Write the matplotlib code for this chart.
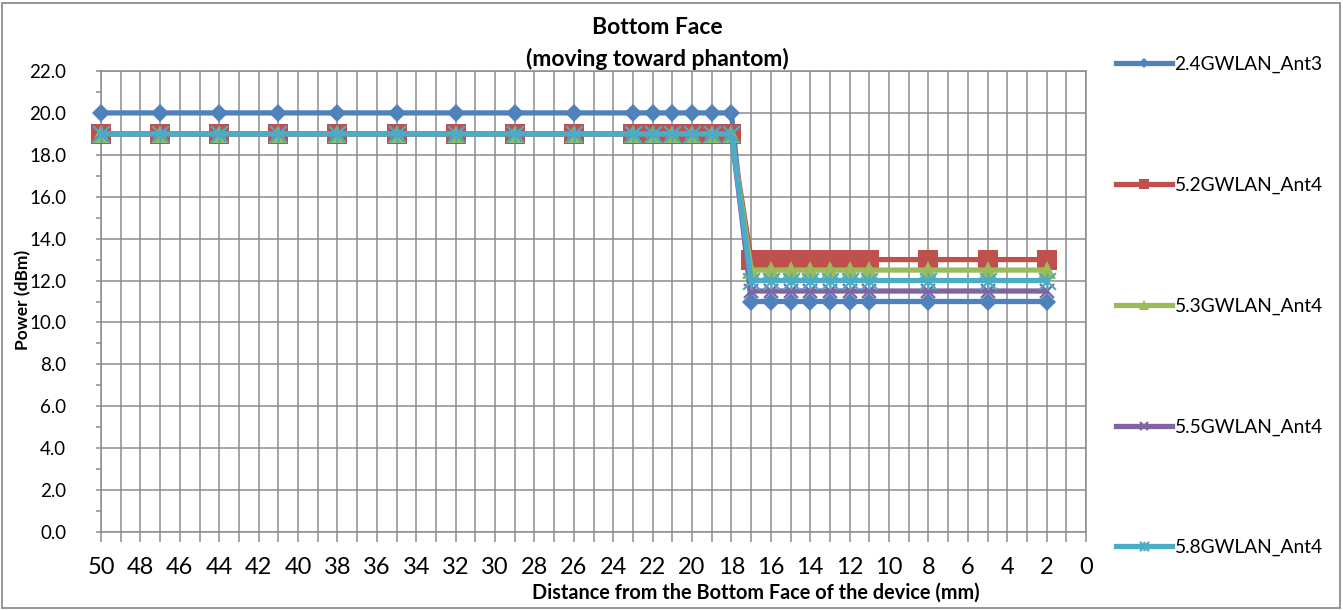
import matplotlib
matplotlib.use("Agg")
import matplotlib.pyplot as plt
from matplotlib.path import Path
from matplotlib.ticker import MultipleLocator, FormatStrFormatter, NullFormatter

plt.rcParams['font.family'] = ['Lato', 'DejaVu Sans']

distance = [50, 47, 44, 41, 38, 35, 32, 29, 26, 23, 22, 21, 20, 19, 18,
            17, 16, 15, 14, 13, 12, 11, 8, 5, 2]
p24_ant3 = [20.0] * 15 + [11.0] * 10
p52_ant4 = [19.0] * 15 + [13.0] * 10
p53_ant4 = [19.0] * 15 + [12.5] * 10
p55_ant4 = [19.0] * 15 + [11.5] * 10
p58_ant4 = [19.0] * 15 + [12.0] * 10

labels = ["2.4GWLAN_Ant3", "5.2GWLAN_Ant4", "5.3GWLAN_Ant4",
          "5.5GWLAN_Ant4", "5.8GWLAN_Ant4"]
series = [p24_ant3, p52_ant4, p53_ant4, p55_ant4, p58_ant4]
colors = ["#4F81BD", "#C0504D", "#9BBB59", "#8064A2", "#4BACC6"]

asterisk = Path([(-1, -1), (1, 1), (-1, 1), (1, -1), (0, -1), (0, 1)],
                [Path.MOVETO, Path.LINETO, Path.MOVETO, Path.LINETO,
                 Path.MOVETO, Path.LINETO])
styles = [
    dict(marker='D', markersize=9.5, markeredgewidth=0),
    dict(marker='s', markersize=14, markeredgewidth=0),
    dict(marker='^', markersize=13, markeredgewidth=0),
    dict(marker='x', markersize=10, markeredgewidth=1.6),
    dict(marker=asterisk, markersize=12, markeredgewidth=1.6),
]

W, H = 1343, 610
fig = plt.figure(figsize=(W / 100, H / 100), dpi=100)
ax = fig.add_axes([101 / W, 1 - 532 / H, (1086 - 101) / W, (532 - 71) / H])

grid_c = "#8C8C8C"
for vals, lab, col, st in zip(series, labels, colors, styles):
    ax.plot(distance, vals, color=col, linewidth=3.8, label=lab,
            markerfacecolor=col, markeredgecolor=col, clip_on=False,
            zorder=3, **st)

ax.set_xlim(50, 0)
ax.set_ylim(0, 22)
ax.xaxis.set_major_locator(MultipleLocator(2))
ax.xaxis.set_minor_locator(MultipleLocator(1))
ax.yaxis.set_major_locator(MultipleLocator(2))
ax.yaxis.set_minor_locator(MultipleLocator(1))
ax.yaxis.set_major_formatter(FormatStrFormatter('%.1f'))
ax.xaxis.set_major_formatter(FormatStrFormatter('%d'))
ax.xaxis.set_minor_formatter(NullFormatter())

ax.grid(True, which='both', axis='x', color=grid_c, linewidth=1.1, zorder=1)
ax.grid(True, which='major', axis='y', color=grid_c, linewidth=1.1, zorder=1)
ax.set_axisbelow(True)

ax.tick_params(axis='x', which='both', direction='out', length=7,
               width=1.1, color=grid_c, labelsize=17, pad=11)
ax.tick_params(axis='y', which='both', direction='out', length=3.6,
               width=1.1, color=grid_c, labelsize=13.5, pad=21.5)
for s in ax.spines.values():
    s.set_color(grid_c)
    s.set_linewidth(1.1)

fig.text(657 / W, 1 - 28 / H, "Bottom Face", ha='center', va='center',
         fontsize=16.5, fontweight='bold')
fig.text(657 / W, 1 - 59 / H, "(moving toward phantom)", ha='center',
         va='center', fontsize=16.5, fontweight='bold')
fig.text(23 / W, 1 - 300 / H, "Power (dBm)", rotation=90, ha='center',
         va='center', fontsize=12.5, fontweight='bold')
fig.text(756 / W, 1 - 593 / H,
         "Distance from the Bottom Face of the device (mm)",
         ha='center', va='center', fontsize=14.3, fontweight='bold')

leg = fig.legend(loc='upper left', bbox_to_anchor=(1116 / W, 1 - 56 / H),
                 frameon=False, fontsize=13.8, handlelength=2.9,
                 handletextpad=0.15, labelspacing=5.4, markerscale=0.55,
                 borderaxespad=0, borderpad=0)

border = plt.Rectangle((2 / W, 2 / H), 1 - 5 / W, 1 - 5 / H,
                       transform=fig.transFigure, fill=False,
                       edgecolor="#8C8C8C", linewidth=1.3)
fig.patches.append(border)

fig.savefig("out.png", dpi=100)
